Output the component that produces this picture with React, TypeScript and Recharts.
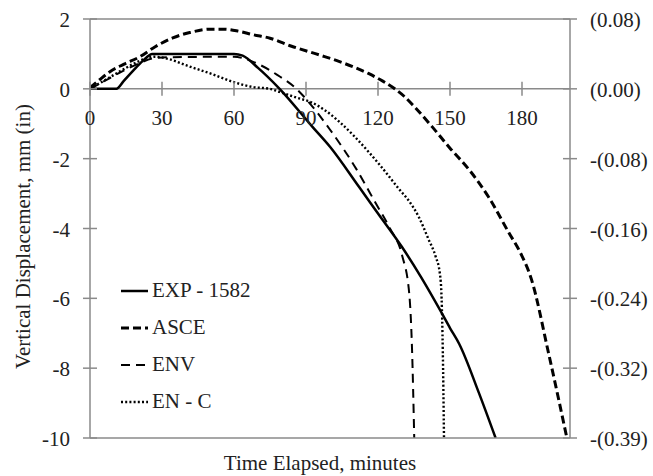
import React from 'react';
import {
  LineChart,
  Line,
  XAxis,
  YAxis,
  ReferenceLine,
  Legend,
  Label
} from 'recharts';

// [time (min), vertical displacement (mm)]
const EXP_1582: [number, number][] = [
  [0, 0], [11, 0], [14, 0.22], [18, 0.52], [22, 0.8], [26, 1.0], [60, 1.0], [63.6, 0.95],
  [70, 0.6], [79, 0], [92.7, -1.09], [100, -1.66], [112, -2.8], [120, -3.57], [130, -4.53],
  [138, -5.4], [146.3, -6.39], [150, -6.85], [153.8, -7.3], [162, -8.7], [169, -10]
];
const ASCE: [number, number][] = [
  [0, 0.03], [4, 0.26], [8.3, 0.49], [14, 0.7], [20.8, 0.92], [27, 1.2], [34.5, 1.46],
  [42, 1.62], [50, 1.71], [56, 1.71], [62, 1.65], [68, 1.55], [75, 1.45], [84, 1.22],
  [95.6, 0.97], [104, 0.78], [110, 0.62], [116, 0.44], [122, 0.22], [127, 0], [131, -0.22],
  [135, -0.5], [142.6, -1.09], [150, -1.7], [158, -2.32], [166, -3.09], [174.6, -4.13],
  [179, -4.65], [184, -5.47], [191, -7.55], [198.7, -10]
];
const ENV: [number, number][] = [
  [0, 0], [8.3, 0.31], [14, 0.52], [20.8, 0.74], [26, 0.87], [30, 0.9], [60, 0.92], [65, 0.85],
  [70.7, 0.69], [78, 0.4], [86, 0], [92, -0.45], [99.8, -1.15], [111, -2.3], [119, -3.27],
  [125, -4.0], [130, -4.76], [133, -5.85], [134.2, -7.5], [135.1, -10]
];
const EN_C: [number, number][] = [
  [0, 0], [5, 0.2], [10, 0.4], [15, 0.6], [20, 0.78], [27, 0.92], [33, 0.85], [41, 0.65],
  [51, 0.42], [59.5, 0.2], [68, 0.05], [75, 0], [79, -0.09], [86, -0.25], [92.7, -0.4],
  [98, -0.62], [104, -0.95], [110, -1.35], [116, -1.8], [121, -2.2], [129, -2.89], [133, -3.22],
  [137, -3.67], [141, -4.3], [144, -4.8], [145.8, -5.3], [146.5, -6], [147, -7.5], [147.5, -10]
];

const X_TICKS = [0, 30, 60, 90, 120, 150, 180];
const Y_TICKS = [2, 0, -2, -4, -6, -8, -10];
const RIGHT_LABELS = ['(0.08)', '(0.00)', '-(0.08)', '-(0.16)', '-(0.24)', '-(0.32)', '-(0.39)'];

const X_DOMAIN = [0, 200];
const Y_MIN = -10;
const Y_MAX = 2;

const W = 653;
const H = 476;
const MARGIN = { top: 19, right: 13, bottom: 8, left: 30 };
const LEFT_W = 60;
const RIGHT_W = 70;
const X_H = 30;
const PLOT_H = H - MARGIN.top - MARGIN.bottom - X_H;
const ZERO_Y = MARGIN.top + (PLOT_H * Y_MAX) / (Y_MAX - Y_MIN);

const FONT = '"Liberation Serif", "Times New Roman", serif';
const AXIS = '#8a8a8a';
const FS = 21;

const SERIES = [
  { name: 'EXP - 1582', data: EXP_1582, width: 2.5, dash: undefined },
  { name: 'ASCE', data: ASCE, width: 3, dash: '8 4' },
  { name: 'ENV', data: ENV, width: 2, dash: '9 6' },
  { name: 'EN - C', data: EN_C, width: 2.4, dash: '2 2.2' }
];

const toPoints = (d: [number, number][]) => d.map(([t, v]) => ({ t, v }));

// x ticks sit on the zero line, not the bottom of the plot
const XTick = ({ x, payload }: any) => (
  <g>
    <line x1={x} x2={x} y1={ZERO_Y - 7} y2={ZERO_Y + 7} stroke={AXIS} strokeWidth={1.5} />
    <text x={x} y={ZERO_Y + 36} textAnchor="middle" fontFamily={FONT} fontSize={FS} fill="#222">
      {payload.value}
    </text>
  </g>
);

const LeftTick = ({ x, y, payload }: any) => (
  <g>
    <line x1={x - 7} x2={x + 7} y1={y} y2={y} stroke={AXIS} strokeWidth={1.5} />
    <text x={x - 20} y={y} dy={8} textAnchor="end" fontFamily={FONT} fontSize={FS} fill="#222">
      {payload.value}
    </text>
  </g>
);

const RightTick = ({ x, y, payload }: any) => {
  const i = Y_TICKS.indexOf(payload.value);
  return (
    <g>
      <line x1={x - 7} x2={x + 7} y1={y} y2={y} stroke={AXIS} strokeWidth={1.5} />
      <text x={x + 20} y={y} dy={8} textAnchor="start" fontFamily={FONT} fontSize={FS} fill="#222">
        {RIGHT_LABELS[i]}
      </text>
    </g>
  );
};

const LegendBox = ({ payload }: any) => {
  const names = (payload || []).map((e: any) => e.value);
  return (
    <div style={{ fontFamily: FONT, fontSize: FS, color: '#222' }}>
      {SERIES.filter(s => names.includes(s.name)).map(s => (
        <div key={s.name} style={{ display: 'flex', alignItems: 'center', height: 37 }}>
          <svg width={30} height={10} style={{ marginRight: 1 }}>
            <line x1={0} x2={27} y1={5} y2={5} stroke="#000" strokeWidth={s.width} strokeDasharray={s.dash} />
          </svg>
          <span>{s.name}</span>
        </div>
      ))}
    </div>
  );
};

export default function App() {
  return (
    <div style={{ position: 'absolute', left: 0, top: 0, width: W, height: H, background: '#fff' }}>
      <LineChart width={W} height={H} margin={MARGIN}>
        <XAxis
          dataKey="t"
          type="number"
          domain={X_DOMAIN}
          ticks={X_TICKS}
          height={X_H}
          stroke={AXIS}
          strokeWidth={1.5}
          tickLine={false}
          tickSize={0}
          tick={<XTick />}
          allowDataOverflow
        >
          <Label
            content={({ viewBox }: any) => (
              <text
                x={viewBox.x + viewBox.width / 2 - 10}
                y={viewBox.y + 32}
                textAnchor="middle"
                fontFamily={FONT}
                fontSize={FS}
                fill="#222"
              >
                Time Elapsed, minutes
              </text>
            )}
          />
        </XAxis>
        <YAxis
          yAxisId="left"
          type="number"
          domain={[Y_MIN, Y_MAX]}
          ticks={Y_TICKS}
          width={LEFT_W}
          stroke={AXIS}
          strokeWidth={1.5}
          tickLine={false}
          tickSize={0}
          tickMargin={0}
          tick={<LeftTick />}
          allowDataOverflow
        >
          <Label
            content={({ viewBox }: any) => {
              const cx = viewBox.x - 7;
              const cy = viewBox.y + viewBox.height / 2 + 8;
              return (
                <text
                  x={cx}
                  y={cy}
                  transform={`rotate(-90 ${cx} ${cy})`}
                  textAnchor="middle"
                  dominantBaseline="central"
                  fontFamily={FONT}
                  fontSize={FS}
                  fill="#222"
                >
                  Vertical Displacement, mm (in)
                </text>
              );
            }}
          />
        </YAxis>
        <YAxis
          yAxisId="right"
          orientation="right"
          type="number"
          domain={[Y_MIN, Y_MAX]}
          ticks={Y_TICKS}
          width={RIGHT_W}
          stroke={AXIS}
          strokeWidth={1.5}
          tickLine={false}
          tickSize={0}
          tickMargin={0}
          tick={<RightTick />}
          allowDataOverflow
        />
        <ReferenceLine yAxisId="left" y={Y_MAX} stroke={AXIS} strokeWidth={1.5} />
        <ReferenceLine yAxisId="left" y={0} stroke={AXIS} strokeWidth={1.5} />
        {SERIES.map(s => (
          <Line
            key={s.name}
            yAxisId="left"
            data={toPoints(s.data)}
            dataKey="v"
            name={s.name}
            type="monotone"
            stroke="#000"
            strokeWidth={s.width}
            strokeDasharray={s.dash}
            dot={false}
            activeDot={false}
            isAnimationActive={false}
          />
        ))}
        <Legend
          layout="vertical"
          align="center"
          verticalAlign="middle"
          content={<LegendBox />}
          wrapperStyle={{ position: 'absolute', left: 121, top: 272, width: 200, height: 150 }}
        />
      </LineChart>
    </div>
  );
}
